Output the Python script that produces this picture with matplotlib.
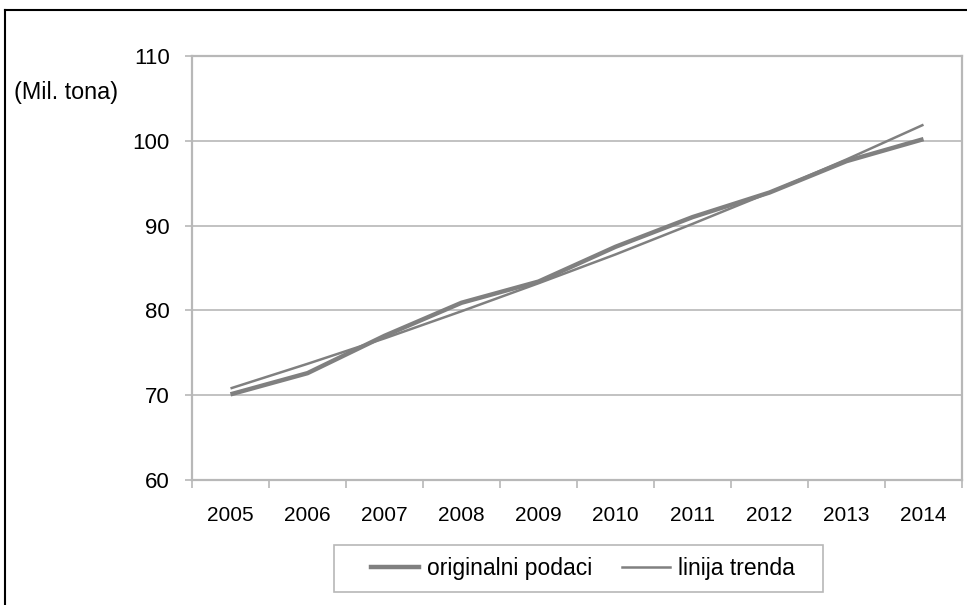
import matplotlib
matplotlib.use("Agg")
import matplotlib.pyplot as plt
from matplotlib.lines import Line2D
from matplotlib.patches import Rectangle

plt.rcParams["font.family"] = ["Liberation Sans", "DejaVu Sans"]

# Data (million tonnes)
years = ["2005", "2006", "2007", "2008", "2009", "2010", "2011", "2012", "2013", "2014"]
original = [70.1, 72.6, 77.0, 80.9, 83.4, 87.5, 91.0, 93.9, 97.6, 100.2]
trend = [70.8, 73.7, 76.7, 79.9, 83.2, 86.6, 90.2, 93.9, 97.8, 101.9]
y_ticks = [60, 70, 80, 90, 100, 110]

W, H = 967, 605
fig = plt.figure(figsize=(W / 100, H / 100), dpi=100)

ax = fig.add_axes([192 / W, 1 - 480 / H, (962 - 192) / W, (480 - 56) / H])

x = list(range(len(years)))
grey = "#808080"
axis_grey = "#b8b8b8"

ax.plot(x, original, color=grey, lw=3.2, solid_capstyle="butt", zorder=3)
ax.plot(x, trend, color=grey, lw=1.8, solid_capstyle="butt", zorder=3)

ax.set_xlim(-0.5, len(years) - 0.5)
ax.set_ylim(60, 110)
ax.set_yticks(y_ticks)
ax.set_yticklabels([str(v) for v in y_ticks], fontsize=16)
ax.set_xticks(x)
ax.set_xticklabels(years, fontsize=15)
ax.tick_params(axis="x", which="major", length=0, pad=19)
ax.set_xticks([i - 0.5 for i in range(len(years) + 1)], minor=True)
ax.tick_params(axis="x", which="minor", length=6, color=axis_grey, width=1.2)
ax.tick_params(axis="y", length=5, color=axis_grey, width=1.2, pad=11)

ax.grid(axis="y", color=axis_grey, lw=1.2)
ax.set_axisbelow(True)
for side in ["left", "bottom", "right", "top"]:
    ax.spines[side].set_color(axis_grey)
    ax.spines[side].set_linewidth(1.6)

fig.text(14 / W, 1 - 92 / H, "(Mil. tona)", fontsize=16.8, va="center", ha="left")

# Legend entries, with a separate box drawn around them
handles = [Line2D([], [], color=grey, lw=3.2), Line2D([], [], color=grey, lw=1.8)]
leg = fig.legend(handles, ["originalni podaci", "linija trenda"], ncol=2,
                 loc="center", bbox_to_anchor=(583 / W, 1 - 569 / H),
                 fontsize=16.5, frameon=False,
                 handlelength=2.1, handletextpad=0.35, columnspacing=1.3,
                 borderpad=0, borderaxespad=0)
fig.add_artist(Rectangle((334 / W, 1 - 592 / H), (823 - 334) / W, (592 - 545) / H,
                         transform=fig.transFigure, facecolor="none",
                         edgecolor=axis_grey, lw=1.2))

# Outer chart frame (top and left edges)
fig.add_artist(Line2D([5 / W, 1], [1 - 10 / H, 1 - 10 / H], transform=fig.transFigure,
                      color="black", lw=1.5))
fig.add_artist(Line2D([5 / W, 5 / W], [0, 1 - 10 / H], transform=fig.transFigure,
                      color="black", lw=1.5))

fig.savefig("out.png", dpi=100)
